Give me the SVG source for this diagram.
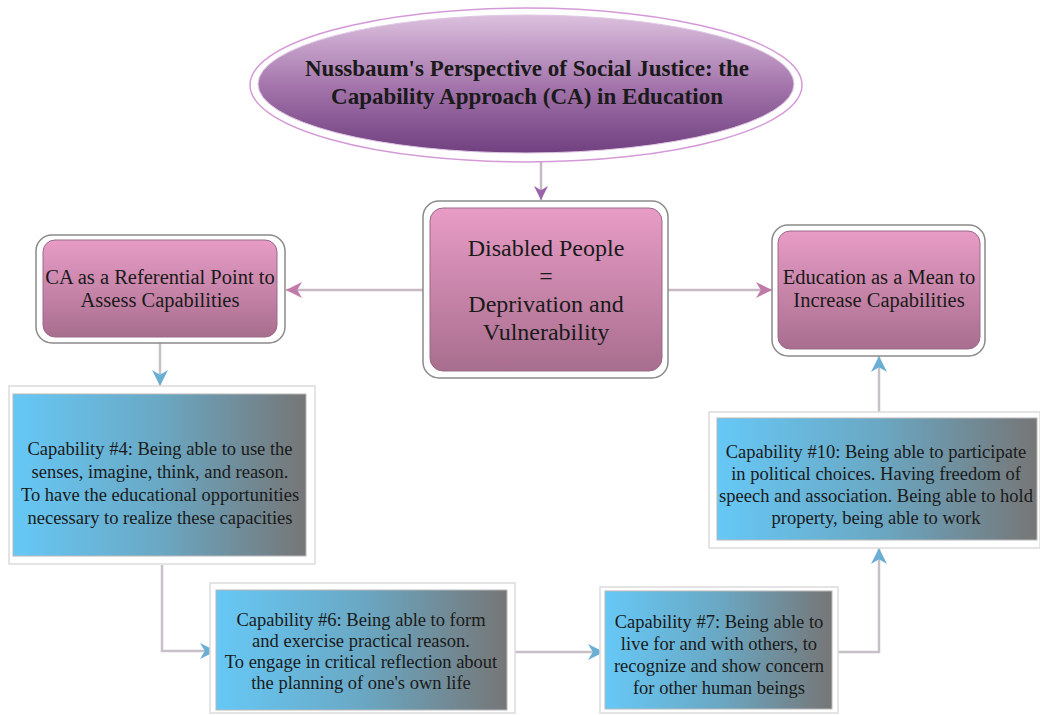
<svg xmlns="http://www.w3.org/2000/svg" width="1040" height="715" viewBox="0 0 1040 715">
<defs>
<linearGradient id="pink" x1="0" y1="0" x2="0" y2="1"><stop offset="0" stop-color="#e89cc6"/><stop offset="1" stop-color="#a86e8e"/></linearGradient>
<linearGradient id="purple" x1="0" y1="0" x2="0" y2="1"><stop offset="0" stop-color="#dcc0de"/><stop offset="0.55" stop-color="#a070a8"/><stop offset="1" stop-color="#704080"/></linearGradient>
<linearGradient id="blue" x1="0" y1="0" x2="1" y2="0"><stop offset="0" stop-color="#66c8f6"/><stop offset="0.5" stop-color="#6aa8c4"/><stop offset="1" stop-color="#767676"/></linearGradient>
<marker id="mp" viewBox="0 0 10 10" refX="10" refY="5" markerWidth="28" markerHeight="16" markerUnits="userSpaceOnUse" orient="auto"><path d="M0,0 L10,5 L0,10 L3,5 Z" fill="#c07aa8"/></marker>
<marker id="mv" viewBox="0 0 10 10" refX="10" refY="5" markerWidth="18" markerHeight="14" markerUnits="userSpaceOnUse" orient="auto"><path d="M0,0 L10,5 L0,10 L3,5 Z" fill="#9a62a8"/></marker>
<marker id="mb" viewBox="0 0 10 10" refX="10" refY="5" markerWidth="28" markerHeight="16" markerUnits="userSpaceOnUse" orient="auto"><path d="M0,0 L10,5 L0,10 L3,5 Z" fill="#6aaed6"/></marker>
</defs>
<style>
.frame{fill:#fff;stroke:#8a8a8a;stroke-width:1.5}
.bframe{fill:#fff;stroke:#dcdcdc;stroke-width:1.5}
.pinkbox{fill:url(#pink);stroke:#9a6a88;stroke-width:1}
.bluebox{fill:url(#blue);stroke:#b8b8b8;stroke-width:1}
.t{fill:#1a1a1a;text-anchor:middle}
.title{font-weight:bold;font-size:23px}
.big{font-size:24px}
.mid{font-size:20.5px}
.sm{font-size:18.5px}
.conn{fill:none;stroke:#c8b8c4;stroke-width:2.5}
.connb{fill:none;stroke:#c8c0c8;stroke-width:2.5}
</style>
<rect width="1040" height="715" fill="#fff"/>
<g id="connectors">
<line class="conn" x1="541" y1="162" x2="541" y2="200" stroke="#b8a8c0" marker-end="url(#mv)"/>
<line class="conn" x1="423" y1="290" x2="286" y2="290" marker-end="url(#mp)"/>
<line class="conn" x1="668" y1="290" x2="772" y2="290" marker-end="url(#mp)"/>
<line class="connb" x1="160" y1="343" x2="160" y2="386" marker-end="url(#mb)"/>
<polyline class="connb" points="162,565 162,651 216,651" marker-end="url(#mb)"/>
<line class="connb" x1="515" y1="652" x2="604" y2="652" marker-end="url(#mb)"/>
<polyline class="connb" points="838,652 879,652 879,548" marker-end="url(#mb)"/>
<line class="connb" x1="879" y1="412" x2="879" y2="356" marker-end="url(#mb)"/>
</g>
<g font-family="'Liberation Serif', 'Times New Roman', serif">
<g id="title">
<ellipse cx="526" cy="85" rx="276" ry="77" fill="#fff" stroke="#d49ad8" stroke-width="1.5"/>
<ellipse cx="526" cy="84" rx="268" ry="69" fill="url(#purple)" stroke="#e0c8e4" stroke-width="1"/>
<text class="t title" x="527" y="76">Nussbaum's Perspective of Social Justice: the</text>
<text class="t title" x="527" y="104">Capability Approach (CA) in Education</text>
</g>
<g id="disabled">
<rect class="frame" x="423" y="201" width="245" height="177" rx="16"/>
<rect class="pinkbox" x="430" y="208" width="232" height="163" rx="13"/>
<text class="t big" x="546" y="256">Disabled People</text>
<text class="t big" x="546" y="284">=</text>
<text class="t big" x="546" y="312">Deprivation and</text>
<text class="t big" x="546" y="340">Vulnerability</text>
</g>
<g id="referential">
<rect class="frame" x="36" y="235" width="249" height="108" rx="16"/>
<rect class="pinkbox" x="43" y="240" width="234" height="97" rx="12"/>
<text class="t mid" x="160" y="284">CA as a Referential Point to</text>
<text class="t mid" x="160" y="307">Assess Capabilities</text>
</g>
<g id="education">
<rect class="frame" x="772" y="225" width="213" height="131" rx="16"/>
<rect class="pinkbox" x="778" y="231" width="202" height="118" rx="12"/>
<text class="t mid" x="879" y="284">Education as a Mean to</text>
<text class="t mid" x="879" y="307">Increase Capabilities</text>
</g>
<g id="cap4">
<rect class="bframe" x="9" y="386" width="306" height="178"/>
<rect class="bluebox" x="13" y="394" width="293" height="162"/>
<text class="t sm" x="160" y="455">Capability #4:  Being able to use the</text>
<text class="t sm" x="160" y="478">senses, imagine, think, and reason.</text>
<text class="t sm" x="160" y="501">To have the educational opportunities</text>
<text class="t sm" x="160" y="524">necessary to realize these capacities</text>
</g>
<g id="cap10">
<rect class="bframe" x="709" y="412" width="331" height="136"/>
<rect class="bluebox" x="717" y="418" width="320" height="122"/>
<text class="t sm" x="876" y="458">Capability #10: Being able to participate</text>
<text class="t sm" x="876" y="480">in political choices. Having freedom of</text>
<text class="t sm" x="876" y="502">speech and association. Being able to hold</text>
<text class="t sm" x="876" y="524">property, being able to work</text>
</g>
<g id="cap6">
<rect class="bframe" x="210" y="583" width="305" height="130"/>
<rect class="bluebox" x="216" y="590" width="291" height="120"/>
<text class="t sm" x="361" y="626">Capability #6: Being able to form</text>
<text class="t sm" x="361" y="647">and exercise practical reason.</text>
<text class="t sm" x="361" y="668">To engage in critical reflection about</text>
<text class="t sm" x="361" y="689">the planning of one's own life</text>
</g>
<g id="cap7">
<rect class="bframe" x="600" y="587" width="238" height="126"/>
<rect class="bluebox" x="605" y="591" width="227" height="118"/>
<text class="t sm" x="719" y="628">Capability #7: Being able to</text>
<text class="t sm" x="719" y="650">live for and with others, to</text>
<text class="t sm" x="719" y="672">recognize and show concern</text>
<text class="t sm" x="719" y="694">for other human beings</text>
</g>
</g>
</svg>
